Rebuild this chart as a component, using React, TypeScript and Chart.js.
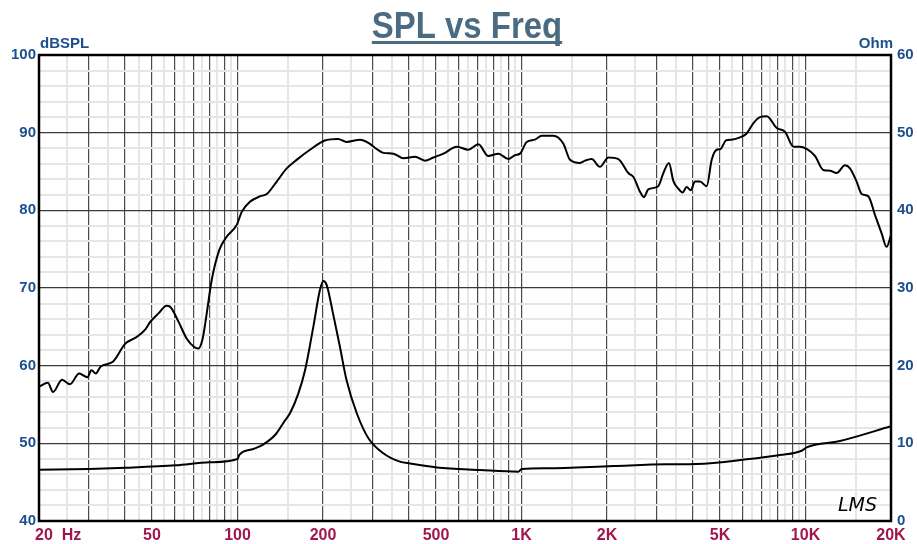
import React, { useEffect, useRef } from 'react';
import { Chart, registerables } from 'chart.js';

Chart.register(...registerables);

// ---- Data ----
const splFreq = [
  20, 21.5, 22.4, 24.1, 25.7, 27.7, 29.6, 30.6, 31.7, 33.0, 36.4, 40.2, 44.2, 47.2, 49.2, 52.6, 56.3, 57.8,
  61.9, 66.2, 70.4, 72.8, 75.4, 77.9, 81.1, 86.3, 91.6, 99.3, 103.5, 110.6, 120, 126.8, 137.4, 149, 161.5,
  180, 203, 226, 242, 270, 289, 309, 326, 354, 384, 422, 457, 489, 531, 592, 650, 705, 764, 829, 899, 948,
  988, 1043, 1115, 1178, 1294, 1403, 1482, 1607, 1675, 1767, 1888, 2022, 2193, 2378, 2478, 2614, 2699,
  2795, 3030, 3158, 3305, 3424, 3565, 3691, 3817, 3943, 4083, 4249, 4489, 4674, 4866, 5023, 5248, 5496,
  5880, 6206, 6548, 6915, 7302, 7918, 8475, 9066, 9562, 10093, 10798, 11548, 12195, 12873, 13771, 14339,
  15138, 15770, 16643, 17568, 18548, 19293, 20000,
];
const splDb = [
  57.3, 57.8, 56.6, 58.2, 57.6, 59.0, 58.5, 59.4, 59.0, 59.9, 60.5, 62.8, 63.7, 64.6, 65.6, 66.7, 67.7, 67.6,
  65.7, 63.5, 62.4, 62.2, 63.5, 66.7, 71.0, 74.9, 76.6, 78.1, 79.8, 81.1, 81.8, 82.1, 83.7, 85.4, 86.5,
  87.8, 89.0, 89.2, 88.8, 89.1, 88.7, 87.9, 87.4, 87.3, 86.7, 86.9, 86.4, 86.8, 87.3, 88.2, 87.8, 88.5, 87.0, 87.3, 86.6, 87.1,
  87.3, 88.8, 89.1, 89.6, 89.6, 88.6, 86.5, 86.1, 86.4, 86.6, 85.6, 86.8, 86.6, 84.8, 84.3, 82.4, 81.7,
  82.7, 83.1, 84.8, 86.1, 83.8, 82.8, 82.3, 83.0, 82.6, 83.7, 83.7, 83.1, 86.5, 87.8, 87.9, 89.0, 89.1,
  89.4, 89.9, 91.2, 92.0, 92.1, 90.6, 90.1, 88.2, 88.2, 87.9, 87.0, 85.2, 85.1, 84.8, 85.8, 85.4,
  83.7, 82.1, 81.8, 79.4, 77.0, 75.3, 76.8,
];

const impFreq = [
  20, 30, 40.5, 60.7, 79.6, 100, 101.5, 113.7, 122.6, 136.6, 146, 153, 163.7, 172.9, 184.9, 195, 200.5, 206,
  217, 229.5, 242, 263, 289, 326, 373, 405, 503, 714, 974, 1002, 1227, 2105, 3245, 4137, 6206, 8128, 9694,
  10093, 13217, 20000,
];
const impOhm = [
  6.6, 6.7, 6.86, 7.17, 7.55, 7.98, 8.5, 9.27, 9.8, 11.2, 12.8, 13.87, 16.4, 19.4, 25.0, 29.7, 30.9, 30.4,
  26.7, 22.4, 18.15, 13.87, 10.65, 8.72, 7.64, 7.4, 6.9, 6.57, 6.35, 6.7, 6.78, 7.08, 7.3, 7.34, 7.94, 8.5, 9.05,
  9.49, 10.3, 12.2,
];

const xLabelValues = [20, 50, 100, 200, 500, 1000, 2000, 5000, 10000, 20000];
const xLabels = ['20  Hz', '50', '100', '200', '500', '1K', '2K', '5K', '10K', '20K'];
const gridMajorFreq = [
  30, 40, 50, 60, 70, 80, 90, 100, 200, 300, 400, 500, 600, 700, 800, 900, 1000,
  2000, 3000, 4000, 5000, 6000, 7000, 8000, 9000, 10000,
];
const gridMinorFreq = [
  25, 35, 45, 55, 65, 75, 85, 95, 150, 250, 350, 450, 550, 650, 750, 850, 950,
  1500, 2500, 3500, 4500, 5500, 6500, 7500, 8500, 9500, 15000,
];

const FONT = '"Liberation Sans", Arial, Helvetica, sans-serif';
const BLUE = '#1b4f8e';
const RED = '#a0174e';

const overlayPlugin = {
  id: 'overlay',
  afterDraw(chart: any) {
    const { ctx, chartArea } = chart;
    const xs = chart.scales.x;
    ctx.save();
    // frame
    ctx.strokeStyle = '#000';
    ctx.lineWidth = 2.5;
    ctx.strokeRect(chartArea.left, chartArea.top, chartArea.right - chartArea.left, chartArea.bottom - chartArea.top);

    // title (slightly condensed, underlined)
    const title = 'SPL vs Freq';
    const tx = 467;
    const sx = 0.89;
    ctx.save();
    ctx.translate(tx, 38);
    ctx.scale(sx, 1);
    ctx.fillStyle = '#4b6b82';
    ctx.font = `bold 37px ${FONT}`;
    ctx.textAlign = 'center';
    ctx.textBaseline = 'alphabetic';
    ctx.fillText(title, 0, 0);
    const tw = ctx.measureText(title).width;
    ctx.fillRect(-tw / 2, 3, tw, 3);
    ctx.restore();

    // axis titles
    ctx.fillStyle = BLUE;
    ctx.font = `bold 15px ${FONT}`;
    ctx.textAlign = 'left';
    ctx.textBaseline = 'alphabetic';
    ctx.fillText('dBSPL', 40, 48);
    ctx.textAlign = 'right';
    ctx.fillText('Ohm', 893, 48);

    // x labels
    ctx.fillStyle = RED;
    ctx.font = `bold 16px ${FONT}`;
    ctx.textBaseline = 'middle';
    xLabelValues.forEach((v, i) => {
      const px = xs.getPixelForValue(v);
      if (i === 0) {
        ctx.textAlign = 'left';
        ctx.fillText(xLabels[i], px - 4, 536);
      } else {
        ctx.textAlign = 'center';
        ctx.fillText(xLabels[i], px, 536);
      }
    });

    // logo
    ctx.fillStyle = '#000';
    ctx.font = `italic 19px "DejaVu Sans", sans-serif`;
    ctx.textAlign = 'left';
    ctx.textBaseline = 'alphabetic';
    ctx.fillText('LMS', 838, 511);
    ctx.restore();
  },
};

export default function App() {
  const ref = useRef<HTMLCanvasElement | null>(null);

  useEffect(() => {
    const canvas = ref.current;
    if (!canvas) return;
    const majorSet = new Set(gridMajorFreq);
    const chart = new Chart(canvas, {
      type: 'line',
      data: {
        datasets: [
          {
            label: 'SPL',
            data: splFreq.map((f, i) => ({ x: f, y: splDb[i] })),
            yAxisID: 'y',
            borderColor: '#000',
            borderWidth: 2,
            pointRadius: 0,
            cubicInterpolationMode: 'monotone',
          },
          {
            label: 'Impedance',
            data: impFreq.map((f, i) => ({ x: f, y: impOhm[i] })),
            yAxisID: 'y1',
            borderColor: '#000',
            borderWidth: 2,
            pointRadius: 0,
            cubicInterpolationMode: 'monotone',
          },
        ],
      },
      options: {
        animation: false,
        responsive: false,
        layout: { padding: { top: 55, left: 0, right: 0, bottom: 0 } },
        plugins: { legend: { display: false }, tooltip: { enabled: false }, title: { display: false } },
        scales: {
          x: {
            type: 'logarithmic',
            min: 20,
            max: 20000,
            afterBuildTicks: (s: any) => {
              s.ticks = [...gridMinorFreq, ...gridMajorFreq].map((v) => ({ value: v }));
            },
            ticks: { display: false },
            grid: {
              drawTicks: false,
              color: (c: any) => (majorSet.has(c.tick?.value) ? '#4a4a4a' : '#e6e6e6'),
              lineWidth: (c: any) => (majorSet.has(c.tick?.value) ? 1.2 : 2),
            },
            border: { display: false },
            afterFit: (s: any) => {
              s.height = 23;
            },
          },
          y: {
            position: 'left',
            min: 40,
            max: 100,
            ticks: {
              stepSize: 2,
              autoSkip: false,
              padding: 3,
              color: BLUE,
              font: { family: FONT, size: 15, weight: 'bold' },
              callback: (v: any) => (Number(v) % 10 === 0 ? String(v) : ''),
            },
            grid: {
              drawTicks: false,
              color: (c: any) => (c.tick && c.tick.value % 10 === 0 ? '#3a3a3a' : '#e6e6e6'),
              lineWidth: (c: any) => (c.tick && c.tick.value % 10 === 0 ? 1.2 : 2),
            },
            border: { display: false },
            afterFit: (s: any) => {
              s.width = 39;
            },
          },
          y1: {
            position: 'right',
            min: 0,
            max: 60,
            ticks: {
              stepSize: 10,
              autoSkip: false,
              padding: 6,
              color: BLUE,
              font: { family: FONT, size: 15, weight: 'bold' },
            },
            grid: { display: false, drawTicks: false },
            border: { display: false },
            afterFit: (s: any) => {
              s.width = 26;
            },
          },
        },
      } as any,
      plugins: [overlayPlugin],
    });
    return () => chart.destroy();
  }, []);

  return (
    <div style={{ position: 'absolute', left: 0, top: 0, width: 917, height: 544, background: '#fff' }}>
      <canvas ref={ref} width={917} height={544} style={{ display: 'block' }} />
    </div>
  );
}
